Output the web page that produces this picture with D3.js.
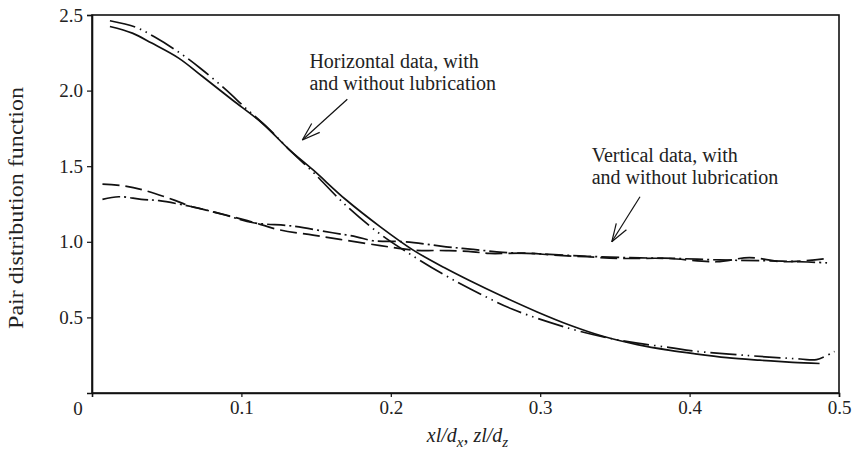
<!DOCTYPE html>
<html>
<head>
<meta charset="utf-8">
<script src="https://cdn.jsdelivr.net/npm/d3@7"></script>
<style>
  html, body { margin: 0; padding: 0; background: #fff; }
  svg { display: block; }
  text { font-family: "Liberation Serif", "DejaVu Serif", serif; fill: #222; }
</style>
</head>
<body>
<svg id="chart" width="857" height="451"></svg>
<script>
// ---- data ----
const xTicks = [0.1, 0.2, 0.3, 0.4, 0.5];
const yTicks = [0.5, 1.0, 1.5, 2.0, 2.5];
const xTickLabels = ["0.1", "0.2", "0.3", "0.4", "0.5"];
const yTickLabels = ["0.5", "1.0", "1.5", "2.0", "2.5"];
const originLabel = "0";

// Horizontal data, without lubrication (solid)
const hSolidX = [0.012,0.027,0.040,0.058,0.074,0.094,0.114,0.132,0.148,0.170,0.193,0.215,0.236,0.253,0.275,0.298,0.320,0.342,0.365,0.387,0.403,0.425,0.447,0.469,0.487];
const hSolidY = [2.424,2.380,2.314,2.215,2.093,1.938,1.784,1.610,1.475,1.278,1.099,0.945,0.828,0.742,0.638,0.536,0.448,0.375,0.320,0.282,0.260,0.234,0.217,0.203,0.195];
// Horizontal data, with lubrication (dash-dot-dot)
const hDashX = [0.012,0.029,0.042,0.059,0.0725,0.089,0.103,0.118,0.132,0.148,0.170,0.193,0.215,0.236,0.253,0.282,0.320,0.345,0.365,0.387,0.4025,0.436,0.474,0.485,0.497];
const hDashY = [2.462,2.420,2.354,2.248,2.148,2.011,1.883,1.750,1.610,1.460,1.240,1.050,0.905,0.780,0.690,0.552,0.426,0.365,0.330,0.300,0.278,0.250,0.225,0.221,0.275];
// Vertical data (dashed)
const vDashX = [0.007,0.022,0.036,0.056,0.067,0.081,0.104,0.126,0.148,0.166,0.193,0.215,0.237,0.255,0.266,0.291,0.309,0.331,0.353,0.385,0.418,0.440,0.463,0.492];
const vDashY = [1.382,1.369,1.338,1.272,1.232,1.199,1.140,1.078,1.044,1.016,0.975,0.945,0.942,0.934,0.923,0.925,0.912,0.901,0.890,0.890,0.868,0.895,0.868,0.890];
// Vertical data (dash-dot)
const vDotX = [0.007,0.018,0.033,0.045,0.067,0.072,0.089,0.108,0.134,0.161,0.177,0.188,0.210,0.237,0.255,0.275,0.300,0.330,0.360,0.390,0.420,0.450,0.470,0.492];
const vDotY = [1.281,1.298,1.281,1.272,1.232,1.221,1.177,1.126,1.104,1.060,1.033,1.007,1.000,0.967,0.950,0.930,0.920,0.905,0.895,0.890,0.880,0.875,0.870,0.861];

const annotations = [
  { lines: ["Horizontal data, with", "and without lubrication"], tx: 0.1455, ty: 2.148, from: [0.1709, 1.943], to: [0.1408, 1.673] },
  { lines: ["Vertical data, with", "and without lubrication"], tx: 0.3345, ty: 1.530, from: [0.3668, 1.298], to: [0.3479, 1.000] }
];

// ---- layout ----
const W = 857, H = 451;
const margin = { left: 92, right: 18, top: 15, bottom: 58 };
const svg = d3.select("#chart");
const x = d3.scaleLinear().domain([0, 0.5]).range([margin.left, W - margin.right]);
const y = d3.scaleLinear().domain([0, 2.5]).range([H - margin.bottom, margin.top]);

// frame
svg.append("rect")
  .attr("x", x(0)).attr("y", y(2.5))
  .attr("width", x(0.5) - x(0)).attr("height", y(0) - y(2.5))
  .attr("fill", "none").attr("stroke", "#111").attr("stroke-width", 1.6);

// axes
const xAxis = d3.axisBottom(x).tickValues(xTicks).tickFormat((d, i) => xTickLabels[i]).tickSize(4).tickPadding(4);
const yAxis = d3.axisLeft(y).tickValues(yTicks).tickFormat((d, i) => yTickLabels[i]).tickSize(5).tickPadding(4);
const gx = svg.append("g").attr("transform", `translate(0,${y(0)})`).call(xAxis);
const gy = svg.append("g").attr("transform", `translate(${x(0)},0)`).call(yAxis);
[gx, gy].forEach(g => {
  g.select(".domain").attr("stroke", "#111").attr("stroke-width", 1.6);
  g.selectAll(".tick line").attr("stroke", "#111").attr("stroke-width", 1.2);
  g.selectAll(".tick text").style("font-family", '"Liberation Serif", serif').style("font-size", "19px").attr("fill", "#222");
});
svg.append("text").attr("x", x(0) - 14).attr("y", y(0) + 22)
  .attr("text-anchor", "middle").style("font-size", "19px").text(originLabel);

// axis titles
svg.append("text")
  .attr("transform", `translate(23,${(y(0) + y(2.5)) / 2 + 4}) rotate(-90)`)
  .attr("text-anchor", "middle").style("font-size", "20px")
  .attr("textLength", 242).attr("lengthAdjust", "spacingAndGlyphs")
  .text("Pair distribution function");

const xt = svg.append("text").attr("x", (x(0) + x(0.5)) / 2 + 2).attr("y", 442)
  .attr("text-anchor", "middle").style("font-size", "20px").style("font-style", "italic");
xt.append("tspan").text("xl/d");
xt.append("tspan").attr("dy", 5).style("font-size", "15px").text("x");
xt.append("tspan").attr("dy", -5).text(", zl/d");
xt.append("tspan").attr("dy", 5).style("font-size", "15px").text("z");

// curves
const line = d3.line().x(d => x(d[0])).y(d => y(d[1])).curve(d3.curveCatmullRom.alpha(0.5));
const series = [
  { xs: hSolidX, ys: hSolidY, dash: null },
  { xs: hDashX, ys: hDashY, dash: "26,5,1.5,5,1.5,5" },
  { xs: vDashX, ys: vDashY, dash: "17,6" },
  { xs: vDotX, ys: vDotY, dash: "18,4,2,4" }
];
series.forEach(s => {
  svg.append("path")
    .datum(s.xs.map((v, i) => [v, s.ys[i]]))
    .attr("d", line)
    .attr("fill", "none")
    .attr("stroke", "#111")
    .attr("stroke-width", 1.7)
    .attr("stroke-dasharray", s.dash);
});

// annotations
annotations.forEach(a => {
  const t = svg.append("text").attr("x", x(a.tx)).attr("y", y(a.ty)).style("font-size", "20px");
  a.lines.forEach((l, i) => t.append("tspan").attr("x", x(a.tx)).attr("dy", i === 0 ? 0 : 22).text(l));
  const x1 = x(a.from[0]), y1 = y(a.from[1]), x2 = x(a.to[0]), y2 = y(a.to[1]);
  svg.append("line").attr("x1", x1).attr("y1", y1).attr("x2", x2).attr("y2", y2)
    .attr("stroke", "#111").attr("stroke-width", 1.2);
  const ang = Math.atan2(y2 - y1, x2 - x1);
  const L = 19, spread = 0.32;
  [ang + Math.PI - spread, ang + Math.PI + spread].forEach(b => {
    svg.append("line").attr("x1", x2).attr("y1", y2)
      .attr("x2", x2 + L * Math.cos(b)).attr("y2", y2 + L * Math.sin(b))
      .attr("stroke", "#111").attr("stroke-width", 1.2);
  });
});
</script>
</body>
</html>
